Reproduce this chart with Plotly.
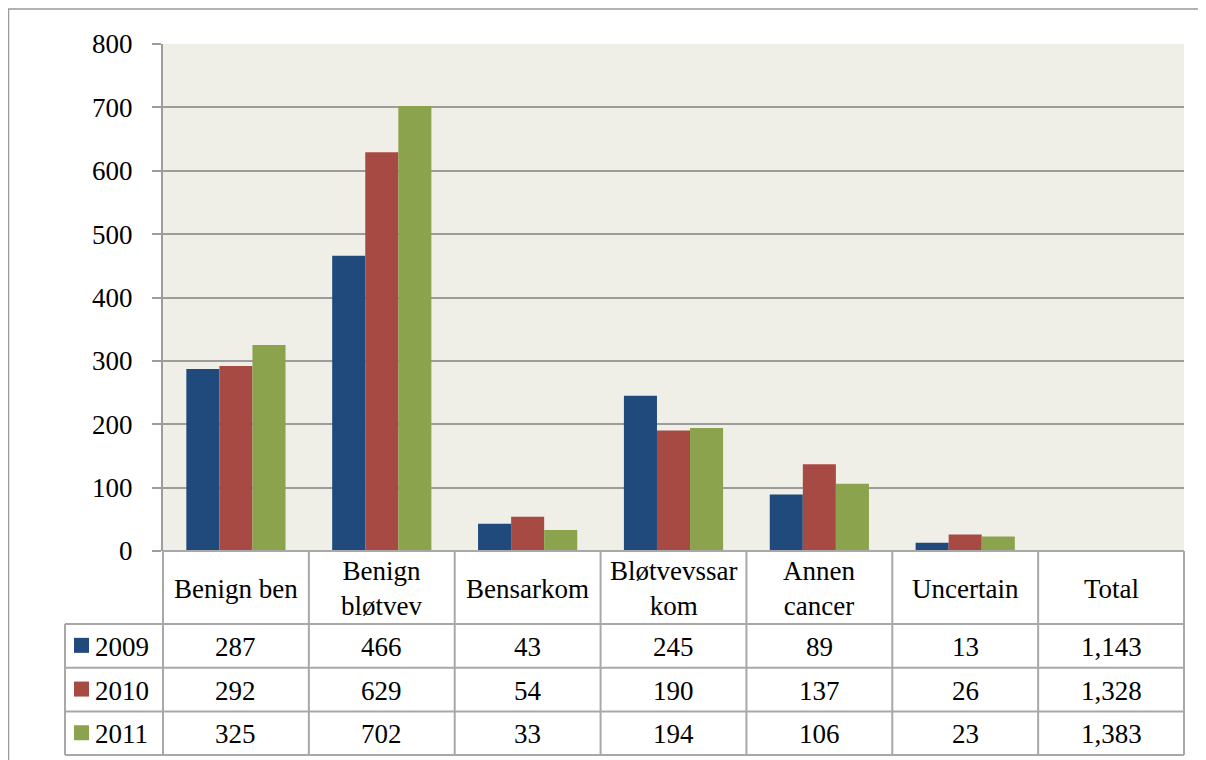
import plotly.graph_objects as go

# ---- data ----
categories = ["Benign ben", "Benign<br>bløtvev", "Bensarkom", "Bløtvevssar<br>kom",
              "Annen<br>cancer", "Uncertain", "Total"]
years = ["2009", "2010", "2011"]
v2009 = [287, 466, 43, 245, 89, 13]
v2010 = [292, 629, 54, 190, 137, 26]
v2011 = [325, 702, 33, 194, 106, 23]
totals = [1143, 1328, 1383]
y_ticks = [0, 100, 200, 300, 400, 500, 600, 700, 800]
colors = ["#1F4A7B", "#A84A44", "#8AA34C"]

series = [v2009, v2010, v2011]

# ---- layout constants (screen pixels) ----
OFF = 8                   # page body margin
W, H = 1206 - OFF, 760 - OFF
X0, X1 = 163, 1184        # plot area left/right
Y0, Y1 = 44, 551          # plot area top/bottom
HDR_B = 624               # bottom of category header row
ROW_H = 43.7
LEG_L = 65                # left edge of legend column
FONT = "Liberation Serif"
FS = 27
GRID = "#9C9C9C"
TBL = "#A8A8A8"

def px(x):
    return (x - OFF) / W

def py(y):
    return 1 - (y - OFF) / H

ncat = len(categories)
cw = (X1 - X0) / ncat

fig = go.Figure()
for name, vals, col in zip(years, series, colors):
    fig.add_trace(go.Bar(
        x=list(range(ncat)), y=vals + [None] * (ncat - len(vals)),
        name=name, marker=dict(color=col, line=dict(width=0)),
        showlegend=False, hoverinfo="y"))

shapes = []
annotations = []

# outer chart border (only top and left edges are visible)
shapes.append(dict(type="line", xref="paper", yref="paper",
                   x0=px(8), x1=px(1230), y0=py(9), y1=py(9),
                   line=dict(color="#9A9A9A", width=1.5)))
shapes.append(dict(type="line", xref="paper", yref="paper",
                   x0=px(8.5), x1=px(8.5), y0=py(9), y1=py(790),
                   line=dict(color="#9A9A9A", width=1.5)))

row_bottoms = [HDR_B + ROW_H * (k + 1) for k in range(len(years))]
tbl_bottom = row_bottoms[-1]

# table horizontal lines
shapes.append(dict(type="line", xref="paper", yref="paper",
                   x0=px(X0), x1=px(X1), y0=py(Y1), y1=py(Y1),
                   line=dict(color=TBL, width=2)))
for yb in [HDR_B] + row_bottoms:
    shapes.append(dict(type="line", xref="paper", yref="paper",
                       x0=px(LEG_L), x1=px(X1), y0=py(yb), y1=py(yb),
                       line=dict(color=TBL, width=2)))
# table vertical lines
for i in range(ncat + 1):
    xx = X0 + i * cw
    shapes.append(dict(type="line", xref="paper", yref="paper",
                       x0=px(xx), x1=px(xx), y0=py(Y1), y1=py(tbl_bottom),
                       line=dict(color=TBL, width=2)))
shapes.append(dict(type="line", xref="paper", yref="paper",
                   x0=px(LEG_L), x1=px(LEG_L), y0=py(HDR_B), y1=py(tbl_bottom),
                   line=dict(color=TBL, width=2)))

# header texts
for i, c in enumerate(categories):
    annotations.append(dict(xref="paper", yref="paper",
                            x=px(X0 + (i + 0.5) * cw), y=py((Y1 + HDR_B) / 2 + 1),
                            text=c, showarrow=False, xanchor="center", yanchor="middle",
                            font=dict(family=FONT, size=FS, color="black")))

# data rows
for k, (name, vals, col) in enumerate(zip(years, series, colors)):
    yc = HDR_B + ROW_H * (k + 0.5)
    row_vals = vals + [totals[k]]
    for i, v in enumerate(row_vals):
        annotations.append(dict(xref="paper", yref="paper",
                                x=px(X0 + (i + 0.5) * cw), y=py(yc + 1),
                                text=f"{v:,}", showarrow=False, xanchor="center",
                                yanchor="middle",
                                font=dict(family=FONT, size=FS, color="black")))
    # legend swatch + label
    shapes.append(dict(type="rect", xref="paper", yref="paper",
                       x0=px(74), x1=px(89), y0=py(yc + 7), y1=py(yc - 8),
                       fillcolor=col, line=dict(width=0)))
    annotations.append(dict(xref="paper", yref="paper", x=px(93), y=py(yc + 1),
                            text=name, showarrow=False, xanchor="left", yanchor="middle",
                            font=dict(family=FONT, size=FS, color="black")))

fig.update_layout(
    width=W, height=H,
    margin=dict(l=0, r=0, t=0, b=0, autoexpand=False),
    paper_bgcolor="white",
    plot_bgcolor="#EFEFE7",
    barmode="group", bargap=0.32, bargroupgap=0,
    xaxis=dict(domain=[px(X0), px(X1)], range=[-0.5, ncat - 0.5],
               showticklabels=False, showgrid=False, zeroline=False,
               showline=False, ticks="", fixedrange=True, automargin=False),
    yaxis=dict(domain=[py(Y1), py(Y0)], range=[0, 800], tickvals=y_ticks,
               ticktext=[str(t) for t in y_ticks],
               showgrid=True, gridcolor=GRID, gridwidth=2,
               zeroline=False, showline=True, linecolor=GRID, linewidth=2,
               ticks="outside", ticklen=9, tickwidth=2, tickcolor=GRID,
               ticklabelstandoff=14, automargin=False,
               tickfont=dict(family=FONT, size=FS, color="black"), fixedrange=True),
    shapes=shapes,
    annotations=annotations,
)

fig.write_html("out.html")
